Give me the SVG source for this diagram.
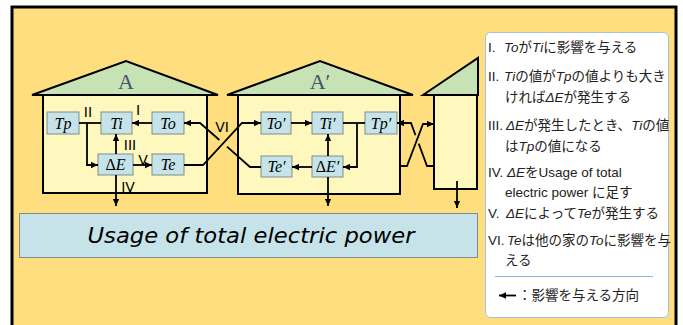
<svg xmlns="http://www.w3.org/2000/svg" width="683" height="325" viewBox="0 0 683 325">
<defs>
<marker id="ah" viewBox="0 0 10 10" refX="10" refY="5" markerWidth="7" markerHeight="7" orient="auto" markerUnits="userSpaceOnUse"><path d="M0,0.5 L10,5 L0,9.5 z" fill="#000"/></marker>
<style>
.wall{fill:#FFF8BE;stroke:#000;stroke-width:2}
.roof{fill:#C7E2B4;stroke:#000;stroke-width:2;stroke-linejoin:miter}
.box{fill:#C5E3E8;stroke:#7F8C8D;stroke-width:1}
.bt{font-family:"Liberation Serif",serif;font-style:italic;font-size:16px;fill:#000;text-anchor:middle}
.hl{font-family:"Liberation Serif",serif;font-size:22px;fill:#44546A;text-anchor:middle}
.num{font-family:"DejaVu Sans","Liberation Sans",sans-serif;font-size:14px;fill:#000;text-anchor:middle}
.c{fill:none;stroke:#000;stroke-width:1.8}
.ca{fill:none;stroke:#000;stroke-width:1.8;marker-end:url(#ah)}
.lg{font-family:"Liberation Sans","Noto Sans CJK JP",sans-serif;font-size:13.5px;fill:#222}
.it{font-style:italic}
</style>
</defs>
<rect x="0" y="0" width="683" height="325" fill="#fff"/>
<rect x="12" y="7" width="664" height="330" fill="#FFDE7F" stroke="#000" stroke-width="3"/>

<g id="houseA">
<rect class="wall" x="43" y="95" width="164" height="98"/>
<polygon class="roof" points="32,95 126,61 218,95"/>
<text class="hl" x="126" y="89">A</text>
</g>
<g id="houseA2">
<rect class="wall" x="238" y="95" width="162" height="99"/>
<polygon class="roof" points="227,95 320,61 413,95"/>
<text class="hl" x="320" y="89">A′</text>
</g>
<g id="house3">
<rect class="wall" x="434" y="95" width="43" height="94"/>
<polygon class="roof" points="423,95 478,58 478,95"/>
</g>

<g id="Tp"><rect class="box" x="47" y="112" width="32" height="22"/><text class="bt" x="63" y="128.5">Tp</text></g>
<g id="Ti"><rect class="box" x="101" y="112" width="31" height="22"/><text class="bt" x="116.5" y="128.5">Ti</text></g>
<g id="To"><rect class="box" x="152" y="112" width="32" height="22"/><text class="bt" x="168" y="128.5">To</text></g>
<g id="dE"><rect class="box" x="98" y="154" width="35" height="21"/><text class="bt" x="115.5" y="170"><tspan font-style="normal">Δ</tspan>E</text></g>
<g id="Te"><rect class="box" x="152" y="154" width="32" height="21"/><text class="bt" x="168" y="170">Te</text></g>

<g id="To2"><rect class="box" x="261" y="112" width="30" height="22"/><text class="bt" x="276" y="128.5">To′</text></g>
<g id="Ti2"><rect class="box" x="312" y="112" width="31" height="22"/><text class="bt" x="327.5" y="128.5">Ti′</text></g>
<g id="Tp2"><rect class="box" x="365" y="112" width="32" height="22"/><text class="bt" x="381" y="128.5">Tp′</text></g>
<g id="Te2"><rect class="box" x="261" y="156" width="31" height="21"/><text class="bt" x="276.5" y="172">Te′</text></g>
<g id="dE2"><rect class="box" x="312" y="156" width="31" height="21"/><text class="bt" x="327.5" y="172"><tspan font-style="normal">Δ</tspan>E′</text></g>

<g id="usage">
<rect x="19.5" y="213.5" width="458" height="44" fill="#C5E3E8" stroke="#7F8C8D" stroke-width="1"/>
<text x="251" y="243" font-family="DejaVu Sans, sans-serif" font-style="italic" font-size="21" text-anchor="middle" textLength="327" lengthAdjust="spacingAndGlyphs" fill="#000">Usage of total electric power</text>
</g>

<g id="connectors">
<path class="ca" d="M152,123 L132,123"/>
<path class="c" d="M79,123 L101,123"/>
<path class="ca" d="M87,123 L87,165 L98,165"/>
<path class="ca" d="M116,154 L116,134"/>
<path class="ca" d="M133,165 L152,165"/>
<path class="ca" d="M116,175 L116,206"/>
<path class="ca" d="M184,165 L203,165 L242,123 L261,123"/>
<path class="c" d="M261,167 L250,167 L227,146.6"/>
<path class="ca" d="M219.4,140 L200,123 L184,123"/>

<path class="ca" d="M291,123 L312,123"/>
<path class="c" d="M343,123 L365,123"/>
<path class="ca" d="M357,123 L357,167 L343,167"/>
<path class="ca" d="M328,156 L328,134"/>
<path class="ca" d="M312,167 L292,167"/>
<path class="ca" d="M328,177 L328,206"/>

<path class="ca" d="M400,166 L407,166 L423,124 L434,124"/>
<path class="c" d="M434,166 L427,166 L418.7,143.6"/>
<path class="ca" d="M415.5,135.2 L411,123 L397,123"/>
<path class="ca" d="M457,181 L457,208"/>
</g>

<g id="numerals">
<text class="num" x="88" y="117">II</text>
<text class="num" x="138" y="115">I</text>
<text class="num" x="130" y="150">III</text>
<text class="num" x="143" y="165">V</text>
<text class="num" x="128" y="192">IV</text>
<text class="num" x="222" y="132">VI</text>
</g>

<g id="legend">
<rect x="485.5" y="32.5" width="183" height="285" rx="5" fill="#fff" stroke="#A7BFDE" stroke-width="1"/>
<text class="lg" x="488" y="52">I.<tspan x="504" class="it">To</tspan>が<tspan class="it">Ti</tspan>に影響を与える</text>
<text class="lg" x="488" y="81">II.<tspan x="504" class="it">Ti</tspan>の値が<tspan class="it">Tp</tspan>の値よりも大き</text>
<text class="lg" x="505" y="102">ければ<tspan class="it">ΔE</tspan>が発生する</text>
<text class="lg" x="488" y="130">III.<tspan x="506" class="it">ΔE</tspan>が発生したとき、<tspan class="it">Ti</tspan>の値</text>
<text class="lg" x="505" y="151">は<tspan class="it">Tp</tspan>の値になる</text>
<text class="lg" x="488" y="177">IV.<tspan x="507" class="it">ΔE</tspan>をUsage of total</text>
<text class="lg" x="505" y="197">electric power に足す</text>
<text class="lg" x="488" y="218">V.<tspan x="506" class="it">ΔE</tspan>によって<tspan class="it">Te</tspan>が発生する</text>
<text class="lg" x="488" y="245">VI.<tspan x="507" class="it">Te</tspan>は他の家の<tspan class="it">To</tspan>に影響を与</text>
<text class="lg" x="505" y="265">える</text>
<line x1="495" y1="276.5" x2="653" y2="276.5" stroke="#8DB3E2" stroke-width="1"/>
<path class="ca" d="M516,295.5 L499,295.5"/>
<text class="lg" x="518" y="300">：影響を与える方向</text>
</g>
</svg>
